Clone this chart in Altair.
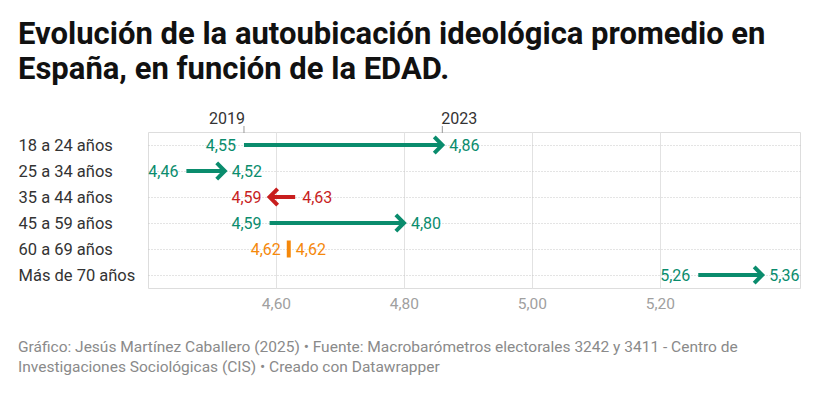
import altair as alt
import pandas as pd

# ---- data ----
categories = ["18 a 24 años", "25 a 34 años", "35 a 44 años",
              "45 a 59 años", "60 a 69 años", "Más de 70 años"]
values_2019 = [4.55, 4.46, 4.63, 4.59, 4.62, 5.26]
values_2023 = [4.86, 4.52, 4.59, 4.80, 4.62, 5.36]
year_labels = ["2019", "2023"]
x_ticks = [4.6, 4.8, 5.0, 5.2]

title_lines = ["Evolución de la autoubicación ideológica promedio en",
               "España, en función de la EDAD."]
footer_lines = ["Gráfico: Jesús Martínez Caballero (2025) • Fuente: Macrobarómetros electorales 3242 y 3411 - Centro de",
                "Investigaciones Sociológicas (CIS) • Creado con Datawrapper"]

# ---- table ----
rows = []
for c, a, b in zip(categories, values_2019, values_2023):
    d = "up" if b > a else ("down" if b < a else "eq")
    rows.append({
        "cat": c, "start": a, "end": b,
        "lo": min(a, b), "hi": max(a, b),
        "lo_txt": f"{min(a, b):.2f}".replace(".", ","),
        "hi_txt": f"{max(a, b):.2f}".replace(".", ","),
        "dir": d, "ang": 0 if b >= a else 180,
    })
df = pd.DataFrame(rows)

ann = pd.DataFrame({"year": year_labels,
                    "x": [values_2019[0], values_2023[0]]})

FONT = "Roboto"
W, H = 652, 156

xscale = alt.Scale(domain=[4.4, 5.419], nice=False, zero=False)
yscale = alt.Scale(type="point", padding=0.5, domain=categories)
color = alt.Color("dir:N", scale=alt.Scale(domain=["up", "down", "eq"],
                                           range=["#0a8c6d", "#c81e1e", "#f5880b"]),
                  legend=None)

xaxis = alt.Axis(values=x_ticks, grid=True, gridColor="#e2e2e2", gridWidth=1,
                 domain=False, ticks=False, labelPadding=8, labelFontSize=15.5,
                 labelFont=FONT, labelColor="#a0a0a0", title=None,
                 labelExpr="replace(format(datum.value, '.2f'), '.', ',')")
yaxis = alt.Axis(grid=True, gridColor="#c9c9c9", gridDash=[1, 2], gridWidth=1,
                 domain=False, ticks=False, tickSize=0, labelAlign="left",
                 labelPadding=130, labelFontSize=16.5, labelFont=FONT,
                 labelColor="#333333", title=None)

base = alt.Chart(df)

lines = base.mark_rule(strokeWidth=4).encode(
    x=alt.X("start:Q", scale=xscale, axis=xaxis),
    x2="end:Q",
    y=alt.Y("cat:N", scale=yscale, axis=yaxis, sort=categories),
    color=color,
).transform_filter("datum.dir != 'eq'")

heads = base.mark_point(shape="M-1,-1L0,0L-1,1", filled=False, strokeWidth=4,
                        size=260, opacity=1, strokeJoin="miter").encode(
    x=alt.X("end:Q", scale=xscale),
    y=alt.Y("cat:N", scale=yscale, sort=categories),
    angle=alt.Angle("ang:Q", scale=None),
    color=color,
).transform_filter("datum.dir != 'eq'")

bars = base.mark_tick(thickness=4, size=17, opacity=1).encode(
    x=alt.X("end:Q", scale=xscale),
    y=alt.Y("cat:N", scale=yscale, sort=categories),
    color=color,
).transform_filter("datum.dir == 'eq'")

lo_text = base.mark_text(align="right", dx=-8, fontSize=16, font=FONT,
                         baseline="middle", dy=1).encode(
    x=alt.X("lo:Q", scale=xscale),
    y=alt.Y("cat:N", scale=yscale, sort=categories),
    text="lo_txt:N",
    color=color,
)
hi_text = base.mark_text(align="left", dx=7, fontSize=16, font=FONT,
                         baseline="middle", dy=1).encode(
    x=alt.X("hi:Q", scale=xscale),
    y=alt.Y("cat:N", scale=yscale, sort=categories),
    text="hi_txt:N",
    color=color,
)

ann_base = alt.Chart(ann)
year_ticks = ann_base.mark_rule(color="#999999", strokeWidth=1).encode(
    x=alt.X("x:Q", scale=xscale),
    y=alt.value(-6), y2=alt.value(1),
)
year_left = ann_base.mark_text(align="right", dx=1, baseline="alphabetic",
                               fontSize=16, font=FONT, color="#333333").encode(
    x=alt.X("x:Q", scale=xscale), y=alt.value(-8), text="year:N",
).transform_filter(alt.datum.year == year_labels[0])
year_right = ann_base.mark_text(align="left", dx=-1, baseline="alphabetic",
                                fontSize=16, font=FONT, color="#333333").encode(
    x=alt.X("x:Q", scale=xscale), y=alt.value(-8), text="year:N",
).transform_filter(alt.datum.year == year_labels[1])

footer = alt.Chart(pd.DataFrame({"k": [0]})).mark_text(
    align="left", baseline="alphabetic", fontSize=15.5, font=FONT,
    color="#8a8a8a", lineHeight=20).encode(
    x=alt.value(-130), y=alt.value(220), text=alt.value(footer_lines))

chart = alt.layer(lines, heads, bars, lo_text, hi_text,
                  year_ticks, year_left, year_right, footer).properties(
    width=W, height=H,
    title=alt.TitleParams(text=title_lines, anchor="start", frame="group",
                          dx=-130, offset=25, fontSize=31, font=FONT,
                          fontWeight="bold", color="#111111", lineHeight=35),
    autosize=alt.AutoSizeParams(type="none"),
    padding={"left": 140, "top": 124, "right": 23, "bottom": 97},
).configure_view(stroke=None).configure(background="white")

chart.save("out.html", embed_options={"renderer": "svg", "actions": False})
